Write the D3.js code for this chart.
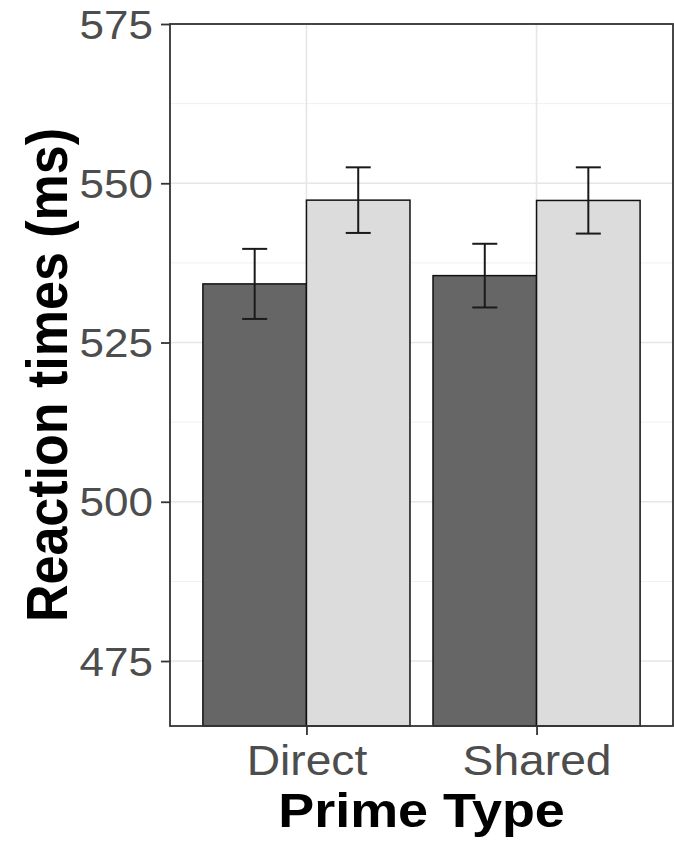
<!DOCTYPE html>
<html>
<head>
<meta charset="utf-8">
<script src="https://cdn.jsdelivr.net/npm/d3@7"></script>
<style>
  html, body { margin: 0; padding: 0; background: #ffffff; }
  svg { display: block; font-family: "Liberation Sans", Arial, sans-serif; }
</style>
</head>
<body>
<div id="chart"></div>
<script>
// bar chart: reaction times by prime type, two conditions per group

const CATEGORIES = ["Direct", "Shared"];
const GROUPS = ["Group 1", "Group 2"];
const GROUP1_MEAN = [534.2, 535.5];
const GROUP1_ERR = [5.5, 5.0];
const GROUP2_MEAN = [547.35, 547.3];
const GROUP2_ERR = [5.15, 5.2];
const Y_TICKS = [475, 500, 525, 550, 575];
const Y_MINOR = [487.5, 512.5, 537.5, 562.5];

const W = 674, H = 841;
const panel = { left: 170, right: 673, top: 24, bottom: 726 };
const SX = 1.1; // picture is a bit wider than tall

const svg = d3.select("#chart").append("svg")
    .attr("width", W)
    .attr("height", H);

const x = d3.scalePoint()
    .domain(CATEGORIES)
    .range([panel.left, panel.right])
    .padding(0.593);

const step = x.step();
const xg = d3.scaleBand()
    .domain(GROUPS)
    .range([-0.45 * step, 0.45 * step])
    .padding(0);

const y = d3.scaleLinear()
    .domain([464.8, 575])
    .range([panel.bottom, panel.top]);

const fills = d3.scaleOrdinal().domain(GROUPS).range(["#666666", "#dcdcdc"]);

// rows for the bars
const rows = [];
CATEGORIES.forEach(function (c, i) {
    rows.push({ cat: c, grp: GROUPS[0], mean: GROUP1_MEAN[i], err: GROUP1_ERR[i] });
    rows.push({ cat: c, grp: GROUPS[1], mean: GROUP2_MEAN[i], err: GROUP2_ERR[i] });
});

// grid
const grid = svg.append("g");
grid.selectAll("line.minor")
    .data(Y_MINOR)
    .enter().append("line")
    .attr("x1", panel.left).attr("x2", panel.right)
    .attr("y1", d => y(d)).attr("y2", d => y(d))
    .attr("stroke", "#f0f0f0").attr("stroke-width", 1);
grid.selectAll("line.major")
    .data(Y_TICKS)
    .enter().append("line")
    .attr("x1", panel.left).attr("x2", panel.right)
    .attr("y1", d => y(d)).attr("y2", d => y(d))
    .attr("stroke", "#e6e6e6").attr("stroke-width", 1.6);
grid.selectAll("line.vmajor")
    .data(CATEGORIES)
    .enter().append("line")
    .attr("x1", d => x(d)).attr("x2", d => x(d))
    .attr("y1", panel.top).attr("y2", panel.bottom)
    .attr("stroke", "#e6e6e6").attr("stroke-width", 1.6);

// bars
svg.append("g").selectAll("rect")
    .data(rows)
    .enter().append("rect")
    .attr("x", d => x(d.cat) + xg(d.grp))
    .attr("width", xg.bandwidth())
    .attr("y", d => y(d.mean))
    .attr("height", d => panel.bottom - y(d.mean))
    .attr("fill", d => fills(d.grp))
    .attr("stroke", "#111")
    .attr("stroke-width", 1.5);

// error bars
const capHalf = 12.5;
const eb = svg.append("g").attr("stroke", "#1a1a1a").attr("stroke-width", 2).attr("fill", "none");
rows.forEach(function (d) {
    const cx = x(d.cat) + xg(d.grp) + xg.bandwidth() / 2;
    const y0 = y(d.mean - d.err), y1 = y(d.mean + d.err);
    eb.append("line").attr("x1", cx).attr("x2", cx).attr("y1", y0).attr("y2", y1);
    eb.append("line").attr("x1", cx - capHalf).attr("x2", cx + capHalf).attr("y1", y0).attr("y2", y0);
    eb.append("line").attr("x1", cx - capHalf).attr("x2", cx + capHalf).attr("y1", y1).attr("y2", y1);
});

// panel border
svg.append("rect")
    .attr("x", panel.left).attr("y", panel.top)
    .attr("width", panel.right - panel.left).attr("height", panel.bottom - panel.top)
    .attr("fill", "none").attr("stroke", "#333").attr("stroke-width", 1.8);

// y axis
const yAxis = svg.append("g")
    .attr("transform", "translate(" + panel.left + ",0)")
    .call(d3.axisLeft(y).tickValues(Y_TICKS).tickSize(9).tickPadding(8).tickFormat(d3.format("d")));
yAxis.select(".domain").remove();
yAxis.selectAll(".tick line").attr("stroke", "#333").attr("stroke-width", 1.8);
yAxis.selectAll(".tick text")
    .attr("font-size", 40)
    .attr("fill", "#4d4d4d")
    .attr("x", -17 / SX)
    .attr("dy", "0.35em")
    .attr("transform", "scale(" + SX + ",1)");

// x axis
const xAxis = svg.append("g")
    .attr("transform", "translate(0," + panel.bottom + ")")
    .call(d3.axisBottom(x).tickSize(9).tickPadding(0));
xAxis.select(".domain").remove();
xAxis.selectAll(".tick line").attr("stroke", "#333").attr("stroke-width", 1.8);
xAxis.selectAll(".tick text")
    .attr("font-size", 42)
    .attr("fill", "#4d4d4d")
    .attr("y", 49)
    .attr("dy", 0)
    .attr("transform", "scale(" + SX + ",1)");

// axis titles
svg.append("text")
    .attr("transform", "translate(" + ((panel.left + panel.right) / 2) + ",827) scale(" + SX + ",1)")
    .attr("text-anchor", "middle")
    .attr("font-size", 49)
    .attr("font-weight", "bold")
    .attr("fill", "#000")
    .text("Prime Type");

svg.append("text")
    .attr("transform", "translate(67," + ((panel.top + panel.bottom) / 2) + ") scale(" + SX + ",1) rotate(-90)")
    .attr("text-anchor", "middle")
    .attr("font-size", 52)
    .attr("font-weight", "bold")
    .attr("fill", "#000")
    .text("Reaction times (ms)");
</script>
</body>
</html>
